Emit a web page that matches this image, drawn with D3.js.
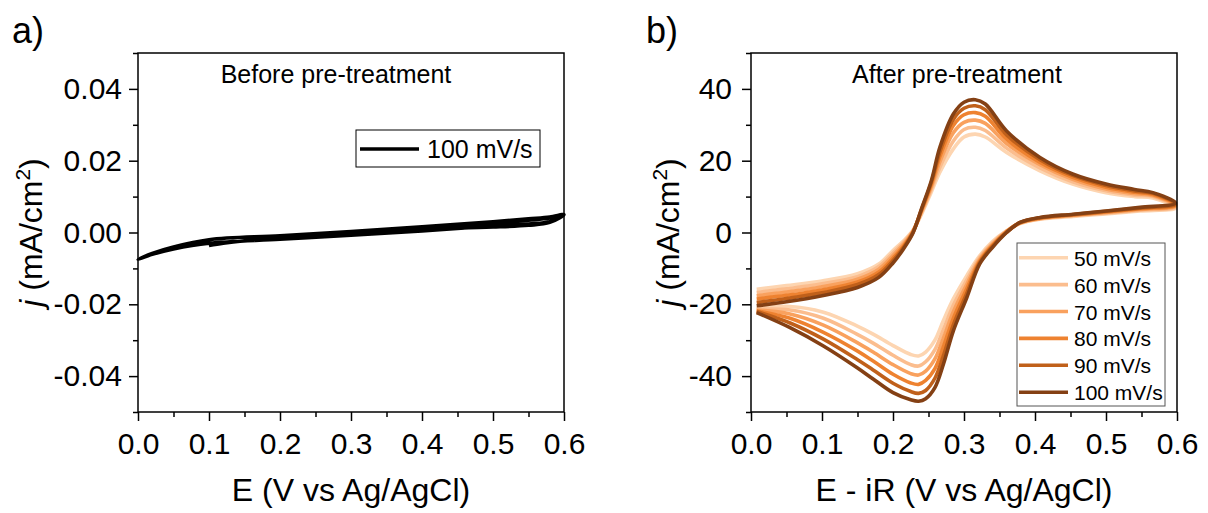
<!DOCTYPE html>
<html>
<head>
<meta charset="utf-8">
<script src="https://cdn.jsdelivr.net/npm/d3@7"></script>
<style>
  html, body { margin: 0; padding: 0; background: #fff; }
  svg { display: block; font-family: "Liberation Sans", Arial, sans-serif; }
</style>
</head>
<body>
<svg id="chart" width="1208" height="513"></svg>
<script>
// ---------- Data ----------
// Panel a: single CV trace (100 mV/s), before pre-treatment
const E_a = [0.10,0.12,0.15,0.20,0.30,0.40,0.50,0.55,0.58,0.60,
             0.58,0.55,0.50,0.40,0.30,0.20,0.10,0.05,0.02,0.00,
             0.02,0.05,0.10,0.20,0.30,0.40,0.50,0.55,0.58,0.60,
             0.58,0.55,0.50,0.45];
const j_a = [-0.0036,-0.0030,-0.0023,-0.0014,-0.0002,0.0012,0.0026,0.0034,0.0040,0.0049,
             0.0030,0.0024,0.0018,0.0004,-0.0008,-0.0019,-0.0030,-0.0046,-0.0061,-0.0075,
             -0.0058,-0.0040,-0.0020,-0.0009,0.0003,0.0016,0.0030,0.0038,0.0043,0.0050,
             0.0028,0.0020,0.0015,0.0012];
const legendA = ["100 mV/s"];

// Panel b: CVs after pre-treatment at several scan rates
const scanRates = ["50 mV/s","60 mV/s","70 mV/s","80 mV/s","90 mV/s","100 mV/s"];
const colorsB = ["#FDD5B1","#FBBD8E","#F9A15E","#EE8230","#C0601A","#844014"];
// forward (anodic) sweep potentials
const E_fwd = [0.008,0.05,0.10,0.15,0.18,0.20,0.215,0.228,0.24,0.254,0.266,0.285,0.30,0.316,0.33,0.36,0.407,0.453,0.50,0.54,0.566];
// reverse (cathodic) sweep potentials
const E_rev = [0.598,0.548,0.50,0.454,0.407,0.379,0.36,0.34,0.322,0.304,0.285,0.271,0.259,0.246,0.236,0.225,0.20,0.172,0.149,0.102,0.055,0.008];
const j_fwd_50  = [-15.8,-14.8,-13.5,-11.5,-8.8,-5.0,-2.3,0.6,5.0,11.3,16.8,23.3,26.6,27.4,26.6,22.3,17.2,13.5,11.1,10.0,9.6];
const j_fwd_60  = [-16.7,-15.7,-14.3,-12.3,-9.5,-5.7,-2.7,0.4,5.4,12.0,18.2,25.5,28.7,29.3,28.4,23.5,18.0,14.1,11.6,10.4,10.0];
const j_fwd_70  = [-17.6,-16.6,-15.1,-13.0,-10.2,-6.4,-3.2,0.3,5.8,12.7,19.7,27.8,30.7,31.3,30.4,24.8,18.9,14.8,12.1,10.8,10.3];
const j_fwd_80  = [-18.5,-17.5,-16.0,-13.8,-11.0,-7.1,-3.7,0.1,6.1,13.4,21.1,29.8,32.8,33.4,32.4,26.0,19.5,15.4,12.6,11.2,10.6];
const j_fwd_90  = [-19.5,-18.4,-16.8,-14.5,-11.7,-7.8,-4.1,0.0,6.3,14.0,22.4,31.5,34.6,35.3,34.2,27.2,20.3,15.9,13.1,11.6,10.9];
const j_fwd_100 = [-20.4,-19.3,-17.6,-15.3,-12.5,-8.5,-4.5,-0.2,6.5,14.4,23.7,33.0,36.3,37.0,35.8,28.3,20.9,16.3,13.5,12.0,11.1];
const j_rev_50  = [6.8,6.0,5.2,4.5,3.7,2.5,0.5,-2.5,-6.5,-12.0,-18.5,-24.5,-30.0,-33.3,-34.4,-34.0,-31.5,-28.3,-26.0,-22.2,-20.6,-21.2];
const j_rev_60  = [7.1,6.2,5.4,4.7,3.8,2.6,0.4,-2.9,-7.0,-13.2,-20.3,-27.0,-32.6,-36.0,-37.2,-36.8,-34.2,-30.8,-28.3,-23.9,-21.6,-21.4];
const j_rev_70  = [7.4,6.4,5.6,4.8,3.9,2.7,0.3,-3.3,-7.5,-14.4,-22.1,-29.4,-35.2,-38.6,-39.7,-39.3,-36.8,-33.3,-30.6,-25.8,-22.7,-21.6];
const j_rev_80  = [7.6,6.6,5.7,4.9,4.0,2.7,0.2,-3.6,-8.0,-15.6,-23.9,-31.8,-37.9,-41.2,-42.3,-41.9,-39.5,-35.8,-32.9,-27.8,-23.9,-21.8];
const j_rev_90  = [7.9,6.8,5.9,5.0,4.1,2.8,0.1,-3.9,-8.4,-16.9,-25.7,-34.3,-40.6,-44.0,-44.8,-44.3,-42.0,-38.3,-35.3,-29.7,-25.2,-22.0];
const j_rev_100 = [8.2,7.0,6.0,5.1,4.2,2.8,0.0,-4.2,-8.8,-18.1,-27.4,-36.7,-43.2,-46.3,-47.0,-46.6,-44.6,-40.8,-37.6,-31.6,-26.5,-22.3];
const fwdB = [j_fwd_50,j_fwd_60,j_fwd_70,j_fwd_80,j_fwd_90,j_fwd_100];
const revB = [j_rev_50,j_rev_60,j_rev_70,j_rev_80,j_rev_90,j_rev_100];

// Ticks
const xMajor = [0,0.1,0.2,0.3,0.4,0.5,0.6];
const xMinor = [0.05,0.15,0.25,0.35,0.45,0.55];
const yMajorA = [-0.04,-0.02,0,0.02,0.04];
const yMinorA = [-0.05,-0.03,-0.01,0.01,0.03,0.05];
const yMajorB = [-40,-20,0,20,40];
const yMinorB = [-50,-30,-10,10,30,50];

// ---------- Drawing ----------
const svg = d3.select("#chart");
const FONT = '"Liberation Sans", Arial, sans-serif';

function drawAxes(x, y, yMaj, yMin, yFmt, yPad) {
  const g = svg.append("g");
  const bottom = y.range()[0], top = y.range()[1];
  const left = x.range()[0], right = x.range()[1];
  // minor ticks
  g.append("g").attr("transform", `translate(0,${bottom})`)
    .call(d3.axisBottom(x).tickValues(xMinor).tickSize(5).tickFormat(""))
    .call(s => s.select(".domain").remove());
  g.append("g").attr("transform", `translate(${left},0)`)
    .call(d3.axisLeft(y).tickValues(yMin).tickSize(5).tickFormat(""))
    .call(s => s.select(".domain").remove());
  // major ticks
  g.append("g").attr("transform", `translate(0,${bottom})`)
    .call(d3.axisBottom(x).tickValues(xMajor).tickSize(9).tickPadding(12).tickFormat(d => d.toFixed(1)))
    .call(s => s.select(".domain").remove());
  g.append("g").attr("transform", `translate(${left},0)`)
    .call(d3.axisLeft(y).tickValues(yMaj).tickSize(9).tickPadding(yPad).tickFormat(yFmt))
    .call(s => s.select(".domain").remove());
  g.selectAll(".tick line").attr("stroke", "#000").attr("stroke-width", 1.5);
  g.selectAll(".tick text").attr("font-size", 30).attr("font-family", FONT).attr("fill", "#000");
  // frame
  svg.append("rect").attr("x", left).attr("y", top)
    .attr("width", right - left).attr("height", bottom - top)
    .attr("fill", "none").attr("stroke", "#000").attr("stroke-width", 1.5);
}

function yTitle(cx, cy) {
  const t = svg.append("text")
    .attr("transform", `translate(${cx},${cy}) rotate(-90)`)
    .attr("text-anchor", "middle").attr("font-size", 32).attr("font-family", FONT);
  t.append("tspan").attr("font-style", "italic").text("j");
  t.append("tspan").text(" (mA/cm");
  t.append("tspan").attr("font-size", 21).attr("dy", -12).text("2");
  t.append("tspan").attr("dy", 12).text(")");
}

// ----- Panel a -----
const xA = d3.scaleLinear().domain([0, 0.6]).range([138, 564]);
const yA = d3.scaleLinear().domain([-0.05, 0.05]).range([412, 53]);
const lineA = d3.line().x(d => xA(d[0])).y(d => yA(d[1])).curve(d3.curveCatmullRom.alpha(0.5));
svg.append("path").datum(E_a.map((e, i) => [e, j_a[i]]))
  .attr("d", lineA).attr("fill", "none").attr("stroke", "#000")
  .attr("stroke-width", 3.5).attr("stroke-linejoin", "round");
drawAxes(xA, yA, yMajorA, yMinorA, d => d.toFixed(2), 7);

svg.append("text").attr("x", 12).attr("y", 43).attr("font-size", 36).attr("font-family", FONT).text("a)");
svg.append("text").attr("x", 336).attr("y", 83).attr("text-anchor", "middle")
  .attr("font-size", 25).attr("font-family", FONT).text("Before pre-treatment");
svg.append("text").attr("x", 351).attr("y", 501).attr("text-anchor", "middle")
  .attr("font-size", 32).attr("font-family", FONT).text("E (V vs Ag/AgCl)");
yTitle(42, 232.5);

// legend a
svg.append("rect").attr("x", 356).attr("y", 130).attr("width", 184).attr("height", 37)
  .attr("fill", "#fff").attr("stroke", "#000").attr("stroke-width", 1);
svg.append("line").attr("x1", 360).attr("x2", 419).attr("y1", 149).attr("y2", 149)
  .attr("stroke", "#000").attr("stroke-width", 3.5);
svg.append("text").attr("x", 427).attr("y", 158).attr("font-size", 25).attr("font-family", FONT).text(legendA[0]);

// ----- Panel b -----
const xB = d3.scaleLinear().domain([0, 0.6]).range([751, 1177]);
const yB = d3.scaleLinear().domain([-50, 50]).range([412, 53]);
const lineB = d3.line().x(d => xB(d[0])).y(d => yB(d[1])).curve(d3.curveCatmullRom.alpha(0.5));
scanRates.forEach((name, k) => {
  const pts = E_fwd.map((e, i) => [e, fwdB[k][i]]).concat(E_rev.map((e, i) => [e, revB[k][i]]));
  svg.append("path").datum(pts).attr("d", lineB)
    .attr("fill", "none").attr("stroke", colorsB[k]).attr("stroke-width", 3.6)
    .attr("stroke-linejoin", "round");
});
drawAxes(xB, yB, yMajorB, yMinorB, d => String(d), 10);

svg.append("text").attr("x", 646).attr("y", 43).attr("font-size", 36).attr("font-family", FONT).text("b)");
svg.append("text").attr("x", 957).attr("y", 83).attr("text-anchor", "middle")
  .attr("font-size", 25).attr("font-family", FONT).text("After pre-treatment");
svg.append("text").attr("x", 964).attr("y", 501).attr("text-anchor", "middle")
  .attr("font-size", 32).attr("font-family", FONT).text("E - iR (V vs Ag/AgCl)");
yTitle(679, 232.5);

// legend b
svg.append("rect").attr("x", 1017).attr("y", 243).attr("width", 148).attr("height", 163)
  .attr("fill", "#fff").attr("stroke", "#555").attr("stroke-width", 1);
scanRates.forEach((name, k) => {
  const yy = 257.7 + 26.9 * k;
  svg.append("line").attr("x1", 1019).attr("x2", 1068).attr("y1", yy).attr("y2", yy)
    .attr("stroke", colorsB[k]).attr("stroke-width", 3.6);
  svg.append("text").attr("x", 1074).attr("y", yy + 8).attr("font-size", 21)
    .attr("font-family", FONT).text(name);
});
</script>
</body>
</html>
